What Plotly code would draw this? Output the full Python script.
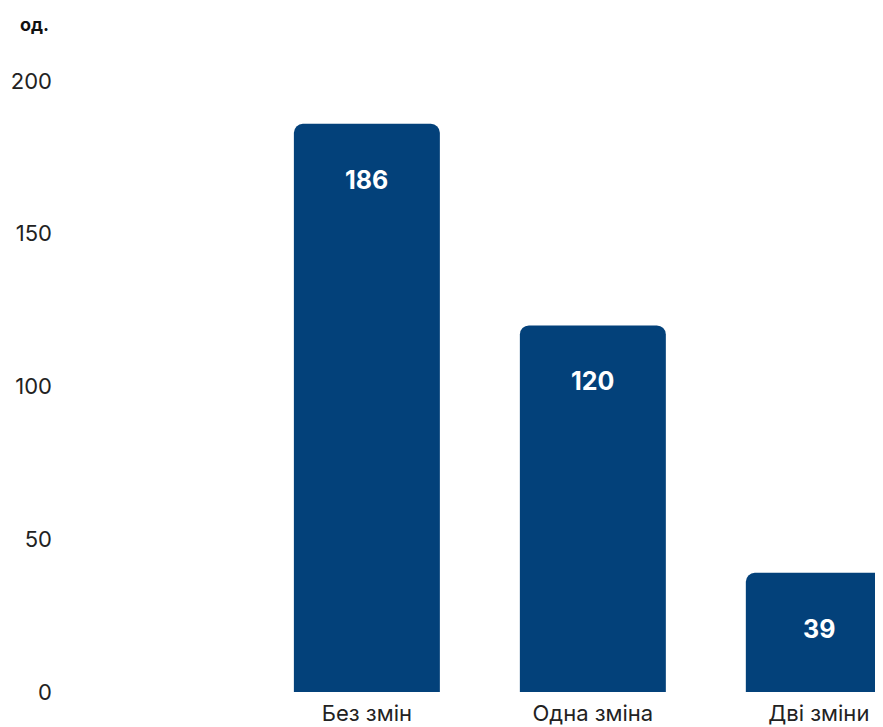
import plotly.graph_objects as go

categories = ["Без змін", "Одна зміна", "Дві зміни"]
values = [186, 120, 39]
y_ticks = [0, 50, 100, 150, 200]
unit_label = "од."

BAR_COLOR = "#03417a"
FONT = "Inter"

fig = go.Figure()
fig.add_trace(go.Bar(
    x=list(range(len(categories))),
    y=values,
    width=0.646,
    marker=dict(color=BAR_COLOR, line=dict(width=0)),
    hoverinfo="skip",
))

for i, v in enumerate(values):
    fig.add_annotation(
        x=i, y=v, xref="x", yref="y",
        text=f"<b>{v}</b>", showarrow=False,
        yanchor="middle", yshift=-56,
        font=dict(family=FONT, size=25, color="white"),
    )

fig.add_annotation(
    x=0, y=1, xref="paper", yref="paper",
    text=f"<b>{unit_label}</b>", showarrow=False,
    xanchor="right", yanchor="middle", xshift=-9, yshift=57,
    font=dict(family=FONT, size=18, color="#111111"),
)

fig.update_layout(
    width=875, height=719,
    margin=dict(l=52, r=0, t=73, b=35),
    paper_bgcolor="white", plot_bgcolor="white",
    barcornerradius=9,
    showlegend=False,
    font=dict(family=FONT, color="#222222"),
)
fig.update_xaxes(
    range=[-1.358, 2.284],
    tickmode="array", tickvals=list(range(len(categories))), ticktext=categories,
    showgrid=False, zeroline=False, showline=False, ticks="",
    tickfont=dict(family=FONT, size=22, color="#222222"),
    ticklabelstandoff=6,
    fixedrange=True,
)
fig.update_yaxes(
    range=[0, 200],
    tickmode="array", tickvals=y_ticks, ticktext=[str(t) for t in y_ticks],
    showgrid=False, zeroline=False, showline=False, ticks="",
    tickfont=dict(family=FONT, size=22, color="#222222"),
    ticklabelstandoff=7,
    fixedrange=True,
)

fig.write_html("out.html")
